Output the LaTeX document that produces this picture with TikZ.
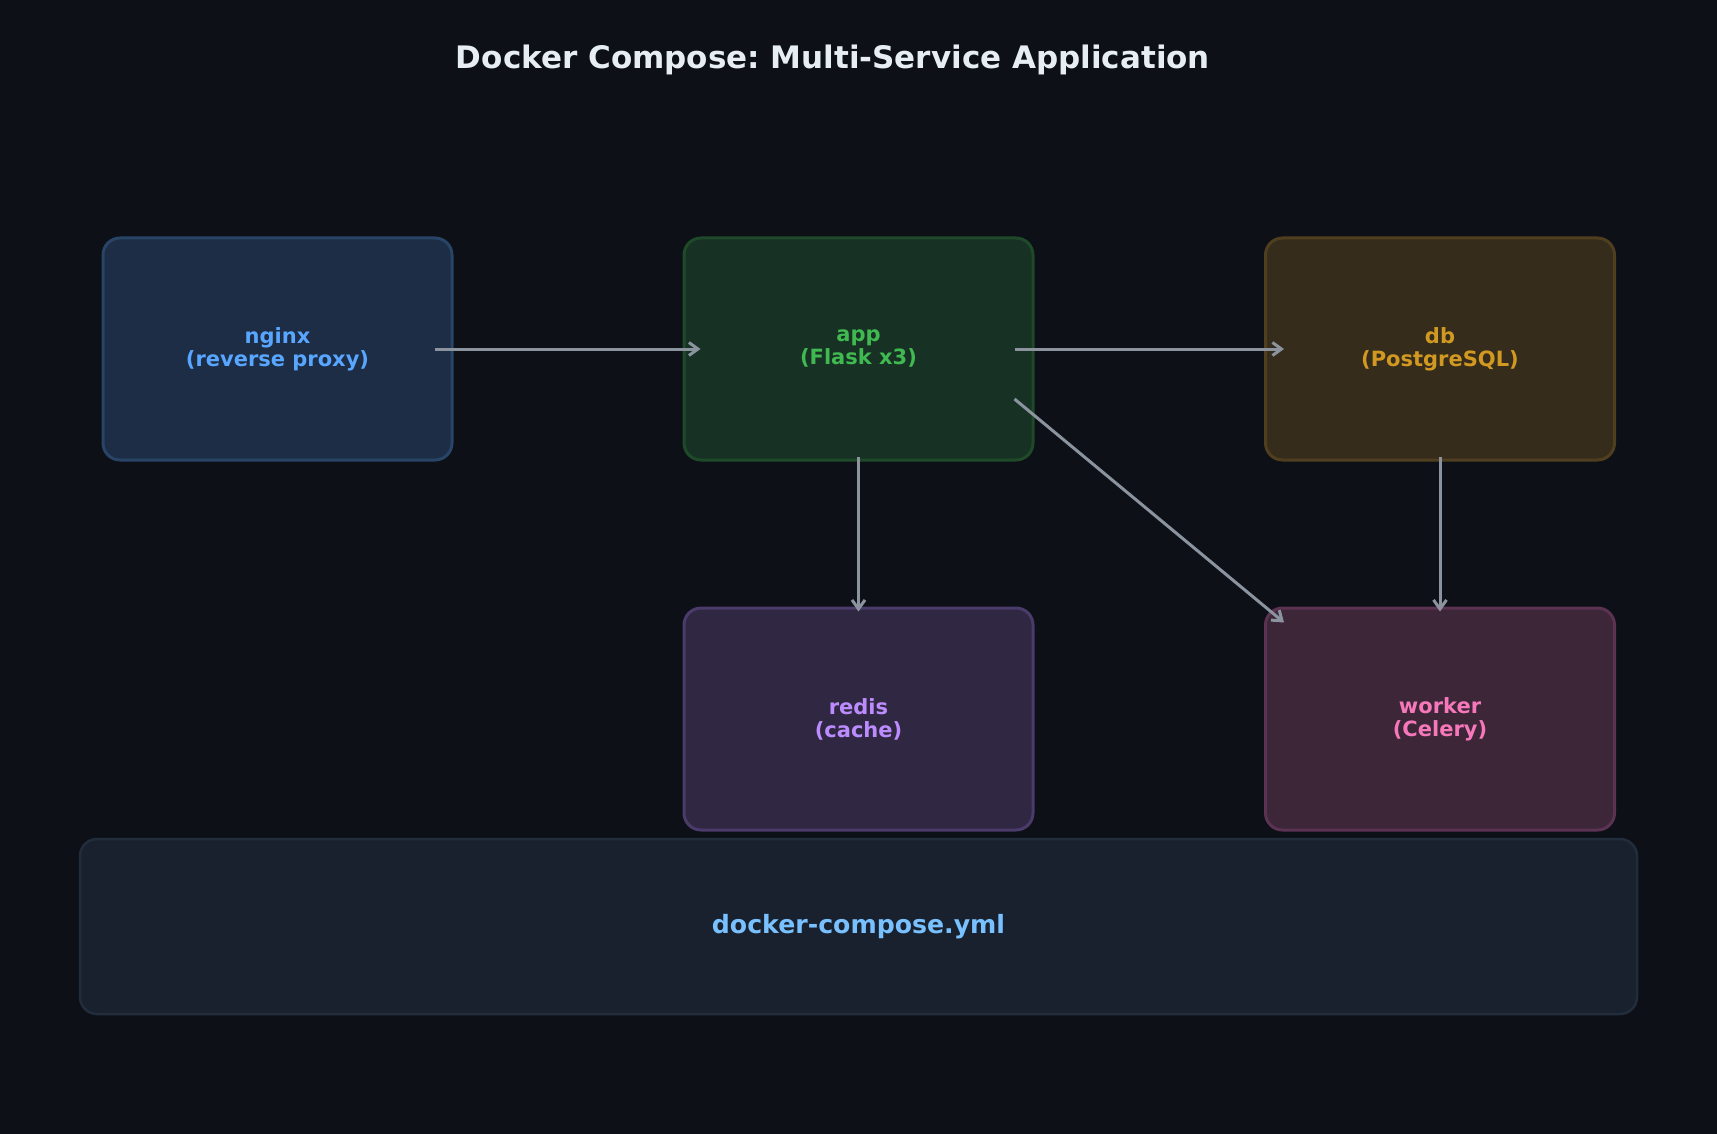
\documentclass[tikz,border=0pt]{standalone}
\usepackage{fontspec}
\setmainfont{DejaVu Sans}
\usetikzlibrary{arrows.meta,calc}
\frenchspacing
\definecolor{bg}{HTML}{0D1017}
\definecolor{arr}{HTML}{8B949E}
\definecolor{nginxfill}{HTML}{1C2D45}\definecolor{nginxdraw}{HTML}{284466}\definecolor{nginxtext}{HTML}{58A6FF}
\definecolor{appfill}{HTML}{173124}\definecolor{appdraw}{HTML}{1F4A2A}\definecolor{apptext}{HTML}{3FB950}
\definecolor{dbfill}{HTML}{352C1B}\definecolor{dbdraw}{HTML}{4F3F1F}\definecolor{dbtext}{HTML}{D29922}
\definecolor{redisfill}{HTML}{302843}\definecolor{redisdraw}{HTML}{4A3B6A}\definecolor{redistext}{HTML}{BC8CFF}
\definecolor{workerfill}{HTML}{3C2638}\definecolor{workerdraw}{HTML}{5B3252}\definecolor{workertext}{HTML}{F778BA}
\definecolor{compfill}{HTML}{18212D}\definecolor{compdraw}{HTML}{222D3C}\definecolor{comptext}{HTML}{79C0FF}
\definecolor{titletext}{HTML}{E6EDF3}
\tikzset{
  svc/.style={rectangle, rounded corners=17pt, line width=3pt, minimum width=349pt, minimum height=222pt,
    align=center, font=\fontsize{21}{23}\selectfont\bfseries},
  conn/.style={draw=arr, line width=3pt, -{Straight Barb[length=9pt,width=13pt,line width=3pt]}},
}
\begin{document}
\begin{tikzpicture}[x=1pt,y=-1pt]
\useasboundingbox[fill=bg] (0,0) rectangle (1717,1134);
\node[font=\fontsize{31}{37}\selectfont\bfseries, text=titletext] (title) at (833,60) {Docker Compose: Multi-Service Application};
\node[svc, fill=nginxfill, draw=nginxdraw, text=nginxtext] (nginx) at (277.5,349) {nginx\\(reverse proxy)};
\node[svc, fill=appfill, draw=appdraw, text=apptext] (app) at (858.5,349) {app\\(Flask x3)};
\node[svc, fill=dbfill, draw=dbdraw, text=dbtext] (db) at (1440,349) {db\\(PostgreSQL)};
\node[svc, fill=redisfill, draw=redisdraw, text=redistext] (redis) at (858.5,719) {redis\\(cache)};
\node[svc, fill=workerfill, draw=workerdraw, text=workertext] (worker) at (1440,719) {worker\\(Celery)};
\node[rectangle, rounded corners=17pt, line width=2.5pt, fill=compfill, draw=compdraw, minimum width=1557pt, minimum height=175pt,
  text=comptext, font=\fontsize{25.2}{29}\selectfont\bfseries] (compose) at (858.5,926.5) {docker-compose.yml};
\coordinate (a1s) at ($(nginx.east)+(-19,0)$);
\coordinate (a1e) at ($(app.west)+(18,0)$);
\coordinate (a2s) at ($(app.east)+(-20,0)$);
\coordinate (a2e) at ($(db.west)+(20,0)$);
\coordinate (a3s) at ($(app.south)+(0,-4.5)$);
\coordinate (a3e) at ($(redis.north)+(0,5)$);
\coordinate (a4s) at ($(app.east)+(-20,50)$);
\coordinate (a4e) at ($(worker.north west)+(20,16)$);
\coordinate (a5s) at ($(db.south)+(0,-4.5)$);
\coordinate (a5e) at ($(worker.north)+(0,5)$);
\draw[conn] (a1s) -- (a1e);
\draw[conn] (a2s) -- (a2e);
\draw[conn] (a3s) -- (a3e);
\draw[conn] (a4s) -- (a4e);
\draw[conn] (a5s) -- (a5e);
\end{tikzpicture}
\end{document}
